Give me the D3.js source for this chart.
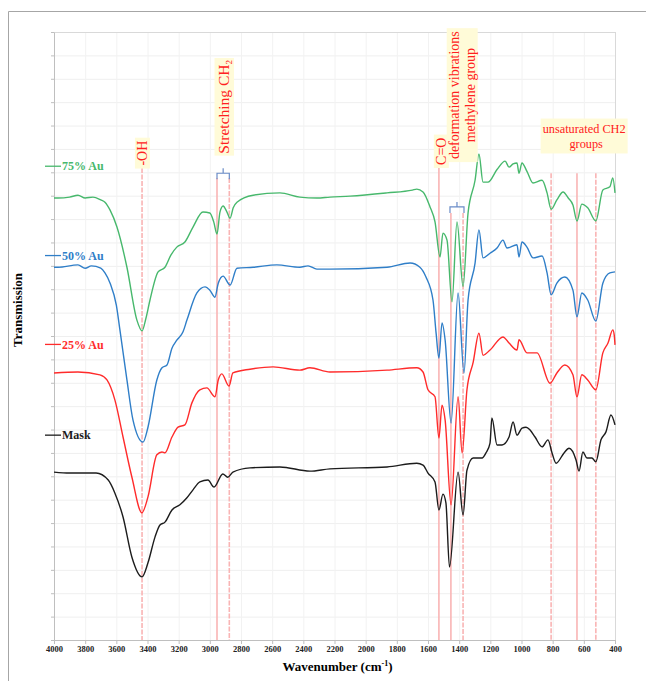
<!DOCTYPE html>
<html lang="en">
<head>
<meta charset="UTF-8">
<title>FTIR spectra</title>
<script src="https://d3js.org/d3.v7.min.js"></script>
<style>
  body { margin: 0; background: #fff; font-family: "Liberation Serif", "Times New Roman", serif; }
  .tick text { font-family: "Liberation Serif", serif; font-weight: bold; font-size: 8.5px; fill: #222; }
</style>
</head>
<body>
<div id="chart"></div>
<script>
// spectra: [wavenumber, transmission (a.u.)]
const au75 = [[4000,94.5],[3975,94.5],[3900,94.7],[3846,95.1],[3800,94.5],[3750,94.7],[3700,94.1],[3673,93.6],[3640,91.9],[3596,88.3],[3532,79.7],[3468,68.4],[3435,66.1],[3410,68.8],[3384,72.7],[3332,78.7],[3288,79.7],[3250,82.3],[3212,84.0],[3160,85.1],[3108,88.3],[3044,91.5],[3000,91.3],[2975,89.4],[2954,86.8],[2935,91.5],[2915,92.8],[2890,91.5],[2870,90.2],[2850,92.4],[2826,93.6],[2722,95.1],[2550,95.6],[2422,94.7],[2313,94.5],[2229,94.7],[2100,94.9],[1863,95.6],[1700,96.2],[1672,96.4],[1632,95.8],[1587,92.6],[1555,89.4],[1523,81.9],[1504,87.0],[1478,85.5],[1446,72.3],[1414,89.4],[1375,75.6],[1343,91.3],[1298,98.3],[1273,103.9],[1247,97.9],[1215,97.9],[1157,100.6],[1105,102.4],[1080,101.1],[1054,101.8],[1029,102.0],[1016,99.8],[997,102.0],[965,100.2],[926,97.7],[868,98.3],[836,95.6],[810,92.1],[773,94.1],[733,95.8],[700,94.5],[670,93.0],[644,89.6],[613,93.2],[575,92.4],[523,89.6],[478,96.2],[433,96.9],[414,98.8],[400,95.6]];
const au50 = [[4000,79.7],[3975,79.7],[3846,80.2],[3800,79.5],[3760,80.0],[3700,79.5],[3673,78.5],[3640,76.3],[3600,71.6],[3577,66.3],[3532,55.6],[3493,47.0],[3429,42.3],[3397,45.5],[3340,55.6],[3307,58.2],[3275,58.8],[3243,62.4],[3212,64.1],[3172,65.9],[3147,68.4],[3083,74.2],[3031,75.5],[3000,74.8],[2967,73.3],[2946,76.3],[2915,77.8],[2870,75.9],[2826,79.5],[2722,79.7],[2570,80.2],[2422,79.7],[2370,80.0],[2313,79.3],[2229,79.3],[1863,79.7],[1715,80.6],[1652,79.7],[1613,77.6],[1568,72.7],[1548,65.6],[1530,60.3],[1510,67.8],[1490,64.1],[1452,46.4],[1407,74.2],[1369,57.1],[1343,72.7],[1298,80.6],[1273,87.7],[1247,81.7],[1202,82.7],[1157,83.8],[1119,85.5],[1093,83.8],[1029,84.5],[1016,81.9],[997,85.1],[965,84.0],[926,81.7],[868,82.1],[836,78.5],[810,73.8],[773,76.3],[722,77.6],[670,74.8],[644,69.1],[613,74.2],[575,72.7],[523,68.2],[478,76.3],[433,78.5],[400,78.7]];
const au25 = [[4000,57.1],[3846,57.3],[3705,56.7],[3660,55.6],[3609,51.3],[3557,43.4],[3500,34.8],[3436,27.2],[3397,30.6],[3340,39.6],[3307,40.2],[3288,40.0],[3243,43.4],[3204,45.5],[3160,46.0],[3115,50.7],[3064,53.5],[3019,53.9],[2967,52.0],[2946,55.6],[2923,56.9],[2877,54.3],[2852,57.1],[2742,57.9],[2594,58.4],[2422,57.7],[2358,58.2],[2229,57.3],[1863,57.7],[1672,58.2],[1632,57.3],[1600,53.5],[1555,52.0],[1530,43.2],[1510,50.2],[1490,47.0],[1452,28.9],[1407,52.0],[1381,40.0],[1350,53.5],[1310,59.4],[1273,65.6],[1247,60.9],[1202,62.0],[1119,64.8],[1080,63.5],[1029,62.0],[1016,64.2],[965,61.4],[900,61.4],[817,54.9],[773,57.1],[722,58.8],[670,56.7],[644,52.0],[613,56.7],[575,55.6],[523,53.5],[478,61.4],[445,63.5],[414,66.3],[405,65.2],[400,63.1]];
const mask = [[4000,35.9],[3900,35.7],[3730,35.7],[3652,34.2],[3609,31.4],[3557,26.3],[3500,17.7],[3435,13.5],[3397,16.5],[3352,22.0],[3320,24.6],[3288,25.2],[3243,27.8],[3192,28.9],[3147,30.4],[3108,32.1],[3064,33.8],[3012,34.2],[2973,32.7],[2917,35.5],[2885,34.8],[2852,35.9],[2742,36.8],[2550,37.0],[2358,36.1],[2229,36.6],[1863,37.0],[1672,37.8],[1632,37.4],[1600,35.7],[1555,33.8],[1530,27.8],[1504,31.2],[1485,29.3],[1462,15.6],[1407,35.9],[1375,26.7],[1350,36.3],[1310,38.9],[1253,38.9],[1228,40.0],[1202,42.1],[1190,47.5],[1157,41.7],[1125,41.7],[1080,43.4],[1054,46.6],[1029,43.8],[997,45.3],[971,45.5],[945,44.9],[913,43.4],[868,41.3],[830,42.8],[804,40.0],[778,37.8],[727,40.0],[695,41.0],[650,38.5],[631,36.1],[606,40.2],[580,38.9],[548,38.9],[523,38.1],[490,42.8],[458,44.5],[426,48.1],[400,46.0]];

const seriesNames = ["75% Au", "50% Au", "25% Au", "Mask"];
const seriesData = [au75, au50, au25, mask];
const seriesColors = ["#47b86c", "#2f7ec8", "#ff2b2b", "#1c1c1c"];
const legendLevels = [101.3, 82.2, 63.2, 43.8];

const xTicks = [4000, 3800, 3600, 3400, 3200, 3000, 2800, 2600, 2400, 2200, 2000, 1800, 1600, 1400, 1200, 1000, 800, 600, 400];

// marker lines: wavenumber, top of line (a.u.), dashed?
const peakLines = [
  [3435, 100.9, true], [2954, 98.8, false], [2875, 98.8, true],
  [1530, 100.9, false], [1453, 91.3, false], [1375, 91.3, true],
  [810, 99.8, true], [644, 99.8, false], [523, 99.8, true]
];

const W = 646, H = 681;
const x = d3.scaleLinear().domain([4000, 400]).range([54, 615]);
const y = d3.scaleLinear().domain([0, 130]).range([640, 32]);

const svg = d3.select("#chart").append("svg")
  .attr("width", W).attr("height", H);

// outer frame
svg.append("path")
  .attr("d", `M8.5,${H} L8.5,11.5 L${W},11.5`)
  .attr("fill", "none").attr("stroke", "#a6a6a6").attr("stroke-width", 1);

// grid
const grid = svg.append("g");
grid.selectAll(".hg").data(d3.range(5, 131, 5)).join("line")
  .attr("x1", x(4000)).attr("x2", x(400))
  .attr("y1", d => y(d) + 0.5).attr("y2", d => y(d) + 0.5)
  .attr("stroke", "#efefef");
grid.selectAll(".vg").data(xTicks.slice(1)).join("line")
  .attr("x1", d => x(d) + 0.5).attr("x2", d => x(d) + 0.5)
  .attr("y1", y(0)).attr("y2", y(130))
  .attr("stroke", "#f2f2f2");
svg.append("rect")
  .attr("x", x(4000) + 0.5).attr("y", y(130) + 0.5)
  .attr("width", x(400) - x(4000)).attr("height", y(0) - y(130))
  .attr("fill", "none").attr("stroke", "#d9d9d9");

// peak marker lines
svg.append("g").selectAll("line").data(peakLines).join("line")
  .attr("x1", d => x(d[0])).attr("x2", d => x(d[0]))
  .attr("y1", d => y(d[1])).attr("y2", y(0))
  .attr("stroke", "#f9b4b4").attr("stroke-width", 1.6)
  .attr("stroke-dasharray", d => d[2] ? "5,1.5" : null);

// axes
const xAxis = svg.append("g")
  .attr("transform", `translate(0,${y(0)})`)
  .call(d3.axisBottom(x).tickValues(xTicks).tickFormat(d3.format("d")).tickSize(4).tickSizeOuter(0).tickPadding(2));
xAxis.select(".domain").attr("stroke", "#bfbfbf");
xAxis.selectAll(".tick line").attr("stroke", "#bfbfbf");

const yAxis = svg.append("g")
  .attr("transform", `translate(${x(4000)},0)`)
  .call(d3.axisLeft(y).tickValues(d3.range(0, 131, 5)).tickFormat("").tickSize(3).tickSizeOuter(0));
yAxis.select(".domain").attr("stroke", "#bfbfbf");
yAxis.selectAll(".tick line").attr("stroke", "#bfbfbf");

// spectra
const line = d3.line().x(d => x(d[0])).y(d => y(d[1])).curve(d3.curveMonotoneX);
svg.append("g").selectAll("path").data(seriesData).join("path")
  .attr("d", line)
  .attr("fill", "none")
  .attr("stroke", (d, i) => seriesColors[i])
  .attr("stroke-width", 1.4)
  .attr("stroke-linejoin", "round");

// legend labels at left
const leg = svg.append("g").selectAll("g").data(seriesNames).join("g")
  .attr("transform", (d, i) => `translate(45,${y(legendLevels[i])})`);
leg.append("line").attr("x1", 0).attr("x2", 16)
  .attr("stroke", (d, i) => seriesColors[i]).attr("stroke-width", 1.3);
leg.append("text").attr("x", 17).attr("dy", "0.35em")
  .attr("font-size", 12).attr("font-weight", "bold")
  .attr("fill", (d, i) => seriesColors[i])
  .text(d => d);

// brackets
function bracket(w1, w2, level) {
  const x1 = x(w1), x2 = x(w2), yy = y(level), xm = (x1 + x2) / 2;
  svg.append("path")
    .attr("d", `M${x1},${yy + 6} L${x1},${yy} L${x2},${yy} L${x2},${yy + 6} M${xm},${yy} L${xm},${yy - 5}`)
    .attr("fill", "none").attr("stroke", "#6a8cc7").attr("stroke-width", 1.2);
}
bracket(2954, 2875, 99.8);
bracket(1459, 1369, 92.6);

// rotated labels with yellow background
function vLabel(w, level, lines, size, gap, padX, padY) {
  const g = svg.append("g")
    .attr("transform", `translate(${x(w)},${y(level)}) rotate(-90)`);
  const t = g.append("text")
    .attr("text-anchor", "middle")
    .attr("font-size", size).attr("fill", "#ff2020");
  lines.forEach((ln, i) => {
    const ts = t.append("tspan").attr("x", 0)
      .attr("y", (i - (lines.length - 1) / 2) * gap + size * 0.35);
    if (typeof ln === "string") ts.text(ln);
    else ln(ts);
  });
  const b = t.node().getBBox();
  g.insert("rect", "text")
    .attr("x", b.x - padX).attr("y", b.y - padY)
    .attr("width", b.width + 2 * padX).attr("height", b.height + 2 * padY)
    .attr("fill", "#fffbd8");
}

vLabel(3435, 104.1, ["-OH"], 14, 0, 3, 0);
vLabel(2915, 114, [ts => {
  ts.text("Stretching CH");
  ts.append("tspan").attr("dy", 3.5).attr("font-size", 9).text("2");
}], 15.5, 0, 2, 0);
vLabel(1517, 104.5, ["C=O"], 14, 0, 3, 0);
vLabel(1383, 116.5, ["deformation vibrations", "methylene group"], 14, 16, 3, 0);

// horizontal label
const uG = svg.append("g").attr("transform", `translate(${x(598)},0)`);
const uT = uG.append("text").attr("text-anchor", "middle")
  .attr("font-size", 12.3).attr("fill", "#ff2020");
uT.append("tspan").attr("x", 0).attr("y", y(108.5)).text("unsaturated CH2");
uT.append("tspan").attr("x", 2).attr("y", y(105.1)).text("groups");
const ub = uT.node().getBBox();
uG.insert("rect", "text")
  .attr("x", ub.x - 2).attr("y", ub.y - 3)
  .attr("width", ub.width + 4).attr("height", ub.height + 5)
  .attr("fill", "#fffbd8");

// axis titles
svg.append("text")
  .attr("x", (x(4000) + x(400)) / 2 + 3).attr("y", 671)
  .attr("text-anchor", "middle")
  .attr("font-size", 13).attr("font-weight", "bold")
  .html('Wavenumber (cm<tspan dy="-5" font-size="8">-1</tspan><tspan dy="5">)</tspan>');

svg.append("text")
  .attr("transform", "translate(22,310) rotate(-90)")
  .attr("text-anchor", "middle")
  .attr("font-size", 13).attr("font-weight", "bold")
  .text("Transmission");
</script>
</body>
</html>
